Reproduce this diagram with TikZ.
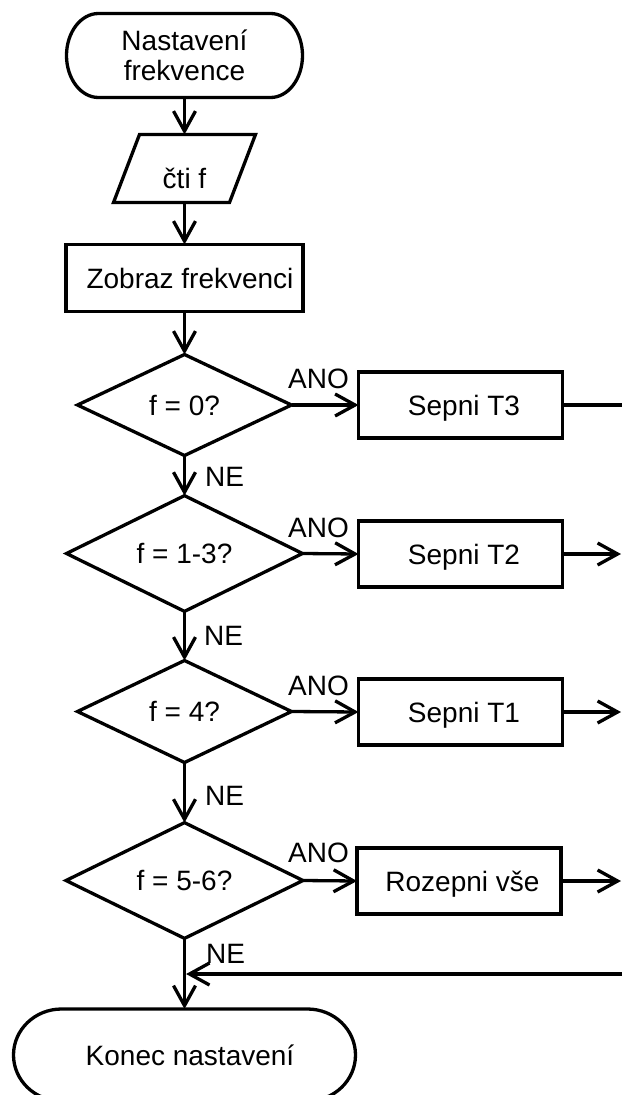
\documentclass[tikz,border=0pt]{standalone}
\usepackage{fontspec}
\setmainfont{Liberation Sans}
\usetikzlibrary{arrows.meta,shapes.geometric}

\tikzset{
  lw/.style={line width=3.3pt},
  base/.style={font=\fontsize{28}{30}\selectfont, inner sep=0pt, outer sep=0pt, lw},
  proc/.style={base, draw, rectangle, text height=20pt, text depth=0pt},
  decision/.style={base, draw, diamond, text height=20pt, text depth=0pt},
  terminal/.style={base, rectangle, align=center},
  iobox/.style={base, rectangle, text height=39pt, text depth=0pt},
  tag/.style={font=\fontsize{28}{30}\selectfont, inner sep=0pt, anchor=base west},
  flow/.style={lw, -{Straight Barb[length=20pt,width=22pt]}},
  plain/.style={lw},
}

\begin{document}
\begin{tikzpicture}[x=1pt,y=1pt]
  \useasboundingbox (0,0) rectangle (622,-1095);

  % start terminal
  \node[terminal, minimum width=236pt, minimum height=84pt] (S) at (184.5,-55.5) {Nastavení\\frekvence};
  \draw[lw] ([xshift=32pt]S.north west) -- ([xshift=-32pt]S.north east)
    arc[start angle=90, end angle=-90, x radius=32pt, y radius=42pt]
    -- ([xshift=32pt]S.south west)
    arc[start angle=270, end angle=90, x radius=32pt, y radius=42pt] -- cycle;

  % input: read f
  \node[iobox, minimum width=142pt, minimum height=68pt] (P) at (184.5,-168.5) {čti f};
  \draw[lw] ([xshift=26pt]P.north west) -- (P.north east)
    -- ([xshift=-26pt]P.south east) -- (P.south west) -- cycle;

  % display
  \node[proc, minimum width=237pt, minimum height=67pt] (Z) at (184.5,-278) {\hspace*{11pt}Zobraz frekvenci};

  % decisions
  \node[decision, minimum width=214pt, minimum height=101pt] (D1) at (184.5,-405) {f = 0?};
  \node[decision, minimum width=236pt, minimum height=110pt] (D2) at (184.5,-553.5) {f = 1-3?};
  \node[decision, minimum width=214pt, minimum height=102pt] (D3) at (184.5,-711.5) {f = 4?};
  \node[decision, minimum width=237pt, minimum height=112pt] (D4) at (184.5,-880.5) {f = 5-6?};

  % actions
  \node[proc, minimum width=204pt, minimum height=66pt] (R1) at (460.5,-405) {\hspace*{7pt}Sepni T3};
  \node[proc, minimum width=204pt, minimum height=66pt] (R2) at (460.5,-554) {\hspace*{7pt}Sepni T2};
  \node[proc, minimum width=204pt, minimum height=66pt] (R3) at (460.5,-712) {\hspace*{7pt}Sepni T1};
  \node[proc, minimum width=204pt, minimum height=66pt] (R4) at (459,-881) {\hspace*{7pt}Rozepni vše};

  % end terminal
  \node[terminal, minimum width=342pt, minimum height=92pt] (E) at (184.5,-1055) {\hspace*{11pt}Konec nastavení};
  \draw[lw] ([xshift=48pt]E.north west) -- ([xshift=-48pt]E.north east)
    arc[start angle=90, end angle=-90, x radius=48pt, y radius=46pt]
    -- ([xshift=48pt]E.south west)
    arc[start angle=270, end angle=90, x radius=48pt, y radius=46pt] -- cycle;

  % branch labels
  \node[tag] (a1) at (288,-388) {ANO};
  \node[tag] (a2) at (288,-537) {ANO};
  \node[tag] (a3) at (288,-695) {ANO};
  \node[tag] (a4) at (288,-862) {ANO};
  \node[tag] (n1) at (205,-486) {NE};
  \node[tag] (n2) at (204,-645) {NE};
  \node[tag] (n3) at (205,-805) {NE};
  \node[tag] (n4) at (206,-963) {NE};

  % off-page ends and junction
  \coordinate (e1) at (622,-405);
  \coordinate (e2) at (621,-554);
  \coordinate (e3) at (621,-712);
  \coordinate (e4) at (621,-881);
  \coordinate (back) at (622,-974);
  \coordinate (join) at (184.5,-974);

  % main flow
  \draw[flow] (S) -- (P);
  \draw[flow] (P) -- (Z);
  \draw[flow] (Z) -- (D1);
  \draw[flow] (D1) -- (D2);
  \draw[flow] (D2) -- (D3);
  \draw[flow] (D3) -- (D4);
  \draw[flow] (D4) -- (E);

  % yes branches
  \draw[flow] (D1.east) -- (R1.west);
  \draw[flow] (D2.east) -- (R2.west);
  \draw[flow] (D3.east) -- (R3.west);
  \draw[flow] (D4.east) -- (R4.west);
  \draw[plain] (R1.east) -- (e1);
  \draw[flow] (R2.east) -- (e2);
  \draw[flow] (R3.east) -- (e3);
  \draw[flow] (R4.east) -- (e4);

  % return into the main line
  \draw[flow, shorten >=1.6pt] (back) -- (join);
\end{tikzpicture}
\end{document}
